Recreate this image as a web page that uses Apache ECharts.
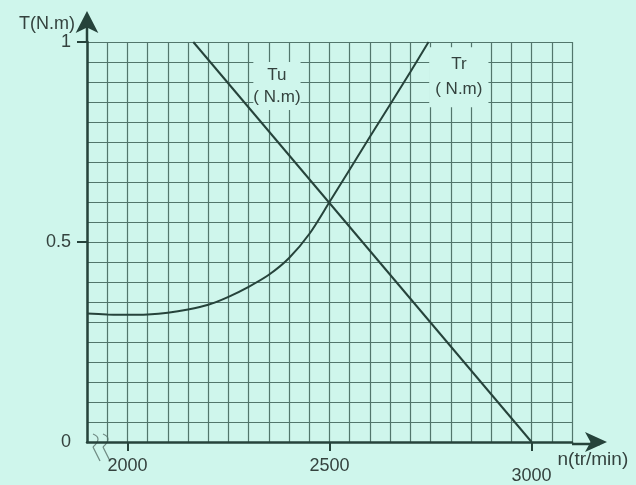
<!DOCTYPE html>
<html>
<head>
<meta charset="utf-8">
<script src="https://cdn.jsdelivr.net/npm/echarts@6/dist/echarts.min.js"></script>
<style>
  html, body { margin: 0; padding: 0; background: #cff6ec; }
  #main { width: 636px; height: 485px; }
</style>
</head>
<body>
<div id="main"></div>
<script>
// speed n (tr/min) and torque T (N.m)
const tuN = [2163, 3000]
const tuT = [1, 0]
const trN = [1900, 1950, 2000, 2050, 2100, 2150, 2200, 2250, 2300, 2350, 2400, 2450, 2500, 2600, 2700, 2745]
const trT = [0.321, 0.319, 0.318, 0.319, 0.323, 0.331, 0.343, 0.363, 0.388, 0.418, 0.46, 0.52, 0.6, 0.763, 0.925, 1]
const xTicks = [2000, 2500, 3000]
const yTicks = [0.5, 1]
const yLabels = [0, 0.5, 1]

const ink = '#26433b'
const gridCol = '#52766c'
const bg = '#cff6ec'
const txt = '#34423e'
const font = 'Liberation Sans'

const chart = echarts.init(document.getElementById('main'))

const pairs = (xs, ys) => xs.map((x, i) => [x, ys[i]])

// little break mark drawn at the foot of the axis
const breakMark = x0 => ([
    { type: 'bezierCurve', shape: { x1: x0, y1: 434, cpx1: x0 + 10, cpy1: 438, x2: x0, y2: 447 },
      style: { fill: null, stroke: '#6f8a83', lineWidth: 1.2 } },
    { type: 'line', shape: { x1: x0, y1: 447, x2: x0 + 7, y2: 461 },
      style: { stroke: '#6f8a83', lineWidth: 1.2 } }
])

// invisible axes that only carry the fine grid
const gridAxis = (min, max, step) => ({
    type: 'value', min: min, max: max, interval: step,
    axisLine: { show: false }, axisTick: { show: false }, axisLabel: { show: false },
    splitLine: { show: true, lineStyle: { color: gridCol, width: 1.2 } }
})

chart.setOption({
    backgroundColor: bg,
    animation: false,
    grid: { left: 87, right: 64, top: 42, bottom: 41 },
    xAxis: [{
        type: 'value',
        min: 1900,
        max: 3100,
        interval: 50,
        name: 'n(tr/min)',
        nameLocation: 'end',
        nameGap: -25,
        nameTextStyle: {
            color: txt, fontSize: 19, fontFamily: font,
            align: 'left', verticalAlign: 'top', padding: [8, 0, 0, 0]
        },
        axisLine: {
            onZero: false,
            lineStyle: { color: ink, width: 2.5 },
            symbol: ['none', 'arrow'],
            symbolSize: [15, 22],
            symbolOffset: [0, 35]
        },
        axisTick: { show: true, customValues: xTicks, length: 9, lineStyle: { color: ink, width: 2 } },
        axisLabel: {
            customValues: xTicks,
            margin: 15,
            color: txt, fontSize: 18, fontFamily: font,
            formatter: v => v === 3000 ? '{low|3000}' : String(v),
            rich: { low: { color: txt, fontSize: 18, fontFamily: font, padding: [10, 0, 0, 0] } }
        },
        splitLine: { show: false }
    }, gridAxis(1900, 3100, 50)],
    yAxis: [{
        type: 'value',
        min: 0,
        max: 1,
        interval: 0.05,
        name: 'T(N.m)',
        nameLocation: 'end',
        nameGap: 17,
        nameTextStyle: {
            color: txt, fontSize: 18, fontFamily: font,
            align: 'right', verticalAlign: 'middle', padding: [0, 12, 0, 0]
        },
        axisLine: {
            onZero: false,
            lineStyle: { color: ink, width: 2.5 },
            symbol: ['none', 'arrow'],
            symbolSize: [17, 22],
            symbolOffset: [0, 31]
        },
        axisTick: { show: true, customValues: yTicks, length: 10, lineStyle: { color: ink, width: 2 } },
        axisLabel: {
            customValues: yLabels,
            margin: 16,
            color: txt, fontSize: 18, fontFamily: font,
            formatter: v => String(v)
        },
        splitLine: { show: false }
    }, gridAxis(0, 1, 0.05)],
    graphic: [
        // axis extensions up to the arrow heads
        { type: 'line', shape: { x1: 572, y1: 444, x2: 600, y2: 444 }, style: { stroke: ink, lineWidth: 2.5 } },
        { type: 'line', shape: { x1: 87, y1: 42, x2: 87, y2: 20 }, style: { stroke: ink, lineWidth: 2.5 } },
        ...breakMark(93),
        ...breakMark(103)
    ],
    series: [
        {
            name: 'Tu',
            type: 'line',
            data: pairs(tuN, tuT),
            symbol: 'none',
            lineStyle: { color: ink, width: 2 },
            markPoint: {
                symbol: 'rect',
                symbolSize: 0,
                data: [{ coord: [2370, 0.89] }],
                label: {
                    show: true,
                    formatter: 'Tu\n( N.m)',
                    color: txt, fontSize: 17, fontFamily: font,
                    lineHeight: 22, align: 'center',
                    backgroundColor: bg, padding: [2, 0]
                }
            }
        },
        {
            name: 'Tr',
            type: 'line',
            data: pairs(trN, trT),
            symbol: 'none',
            smooth: 0.3,
            lineStyle: { color: ink, width: 2 },
            markPoint: {
                symbol: 'rect',
                symbolSize: 0,
                data: [{ coord: [2820, 0.912] }],
                label: {
                    show: true,
                    formatter: 'Tr\n( N.m)',
                    color: txt, fontSize: 17, fontFamily: font,
                    lineHeight: 25, align: 'center',
                    backgroundColor: bg, padding: [5, 6]
                }
            }
        }
    ]
})
</script>
</body>
</html>
